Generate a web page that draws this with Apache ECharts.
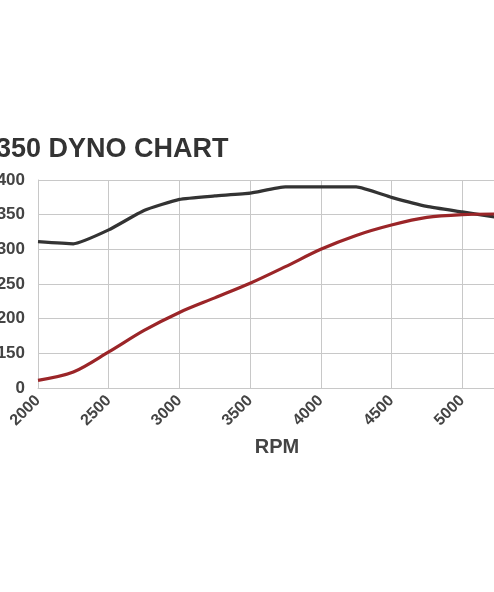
<!DOCTYPE html>
<html>
<head>
<meta charset="utf-8">
<style>
html,body{margin:0;padding:0;background:#fff;}
#chart{width:494px;height:592px;}
</style>
<script src="https://cdn.jsdelivr.net/npm/echarts@6/dist/echarts.min.js"></script>
</head>
<body>
<div id="chart"></div>
<script>
const titleText = '350 DYNO CHART';
const xName = 'RPM';
const rpm = [2000, 2250, 2500, 2750, 3000, 3250, 3500, 3750, 4000, 4250, 4500, 4750, 5000, 5250];
const blackSeries = [311, 308, 328, 356, 372, 377, 381, 390, 390, 390, 375, 362, 354, 346];
const redSeries = [111, 123, 152, 183, 209, 230, 251, 275, 300, 320, 335, 346, 350, 351];
const yTickLabels = {100: '0', 150: '150', 200: '200', 250: '250', 300: '300', 350: '350', 400: '400'};

const chart = echarts.init(document.getElementById('chart'));
const labelFont = 'Liberation Sans, Arial, Helvetica, sans-serif';
chart.setOption({
  backgroundColor: '#ffffff',
  animation: false,
  graphic: [{
    type: 'text',
    left: -4,
    top: 136,
    style: {text: titleText, fontSize: 27, fontWeight: 'bold', fill: '#333333', fontFamily: labelFont}
  }],
  grid: {left: 38, right: 0, top: 180, bottom: 204, containLabel: false, outerBoundsMode: 'none'},
  xAxis: {
    type: 'value',
    min: 2000, max: 5225, interval: 500,
    name: xName,
    nameLocation: 'middle',
    nameGap: 49,
    nameTextStyle: {fontSize: 20, fontWeight: 'bold', color: '#444444', fontFamily: labelFont, padding: [0, 0, 0, 22]},
    axisLine: {show: true, lineStyle: {color: '#c8c8c8', width: 1}},
    axisTick: {show: false},
    splitLine: {show: true, showMaxLine: false, lineStyle: {color: '#c8c8c8', width: 1}},
    axisLabel: {rotate: 45, margin: 10, fontSize: 16, fontWeight: 'bold', color: '#444444', fontFamily: labelFont,
      showMaxLabel: false, formatter: v => (v % 500 === 0 ? String(v) : '')}
  },
  yAxis: {
    type: 'value',
    min: 100, max: 400, interval: 50,
    axisLine: {show: true, lineStyle: {color: '#c8c8c8', width: 1}},
    axisTick: {show: false},
    splitLine: {show: true, lineStyle: {color: '#c8c8c8', width: 1}},
    axisLabel: {
      margin: 13, fontSize: 17, fontWeight: 'bold', color: '#444444', fontFamily: labelFont,
      formatter: v => yTickLabels[v] !== undefined ? yTickLabels[v] : ''
    }
  },
  series: [
    {
      type: 'line',
      data: rpm.map((x, i) => [x, blackSeries[i]]),
      showSymbol: false,
      smooth: 0.15,
      clip: true,
      lineStyle: {color: '#333333', width: 3.2},
      itemStyle: {color: '#333333'}
    },
    {
      type: 'line',
      data: rpm.map((x, i) => [x, redSeries[i]]),
      showSymbol: false,
      smooth: 0.3,
      clip: true,
      lineStyle: {color: '#9b2528', width: 3.2},
      itemStyle: {color: '#9b2528'}
    }
  ]
});
</script>
</body>
</html>
